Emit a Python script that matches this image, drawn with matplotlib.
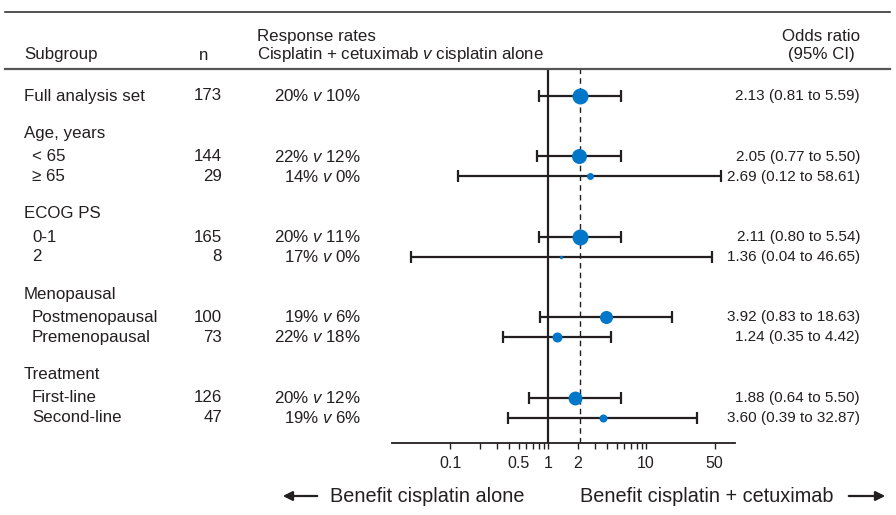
#Forest plot: respuesta a cisplatino + cetuximab vs cisplatino solo, por subgrupos
import matplotlib
matplotlib.use("Agg")
import matplotlib.pyplot as plt
from matplotlib.lines import Line2D
from matplotlib.transforms import blended_transform_factory

plt.rcParams['font.family'] = ['Liberation Sans', 'DejaVu Sans']
plt.rcParams['mathtext.fontset'] = 'custom'
plt.rcParams['mathtext.rm'] = 'Liberation Sans'
plt.rcParams['mathtext.it'] = 'Liberation Sans:italic'

#datos (None = fila de encabezado de grupo)
subgrupos = ["Full analysis set", "Age, years", "< 65", "\u2265 65", "ECOG PS", "0-1", "2",
             "Menopausal", "Postmenopausal", "Premenopausal", "Treatment", "First-line", "Second-line"]
n_pac = [173, None, 144, 29, None, 165, 8, None, 100, 73, None, 126, 47]
resp_cetux = [20, None, 22, 14, None, 20, 17, None, 19, 22, None, 20, 19]
resp_cispl = [10, None, 12, 0, None, 11, 0, None, 6, 18, None, 12, 6]
odds = [2.13, None, 2.05, 2.69, None, 2.11, 1.36, None, 3.92, 1.24, None, 1.88, 3.60]
ic_bajo = [0.81, None, 0.77, 0.12, None, 0.80, 0.04, None, 0.83, 0.35, None, 0.64, 0.39]
ic_alto = [5.59, None, 5.50, 58.61, None, 5.54, 46.65, None, 18.63, 4.42, None, 5.50, 32.87]

ticks_mayores = [0.1, 0.5, 1, 2, 10, 50]
ticks_etiquetas = ["0.1", "0.5", "1", "2", "10", "50"]
ticks_menores = [0.2, 0.3, 0.4, 0.6, 0.7, 0.8, 0.9, 3, 4, 5, 6, 7, 8, 9]

#estilo
sangria = [0, 0, 1, 1, 0, 1, 1, 0, 1, 1, 0, 1, 1]
tam_punto = [11.5, None, 10.8, 5, None, 11.5, 2.5, None, 9.4, 7.2, None, 10, 5.8]
azul = "#0077c8"
negro = "#231f20"

W, H = 896, 515
fig = plt.figure(figsize=(W / 100, H / 100), dpi=100)

#posiciones verticales (en pixeles desde arriba)
ys = []
y = 96
for i in range(len(subgrupos)):
    if i > 0:
        if n_pac[i] is None:
            y += 37.5
        elif n_pac[i - 1] is None:
            y += 23
        else:
            y += 20
    ys.append(y)

ax = fig.add_axes([392 / W, 1 - 443 / H, (735 - 392) / W, (443 - 69) / H])
ax.set_xscale('log')
ax.set_xlim(0.02559, 80.9)
ax.set_ylim(443, 69)
for lado in ["top", "right", "left"]:
    ax.spines[lado].set_visible(False)
ax.spines["bottom"].set_linewidth(1.3)
ax.spines["bottom"].set_color(negro)
ax.set_yticks([])
ax.set_xticks(ticks_mayores)
ax.set_xticklabels(ticks_etiquetas)
ax.set_xticks(ticks_menores, minor=True)
ax.xaxis.set_minor_formatter(plt.NullFormatter())
ax.tick_params(axis='x', which='both', length=4.5, width=1, color=negro,
               labelsize=11.5, pad=5, labelcolor=negro)

ax.axvline(1, color=negro, lw=1.6, zorder=1)
ax.axvline(odds[0], color=negro, lw=1, ls=(0, (4, 3)), zorder=1)

trans = blended_transform_factory(fig.transFigure, ax.transData)
fs = 12.2
fs_or = 11.0

for i, nombre in enumerate(subgrupos):
    y = ys[i]
    x_txt = 24 + 8 * sangria[i]
    ax.text(x_txt / W, y, nombre, transform=trans, fontsize=fs, va='center', ha='left', color=negro)
    if n_pac[i] is None:
        continue
    ax.text(222 / W, y, str(n_pac[i]), transform=trans, fontsize=fs, va='center', ha='right', color=negro)
    ax.text(361 / W, y, "%d%% $\\mathit{v}$ %d%%" % (resp_cetux[i], resp_cispl[i]),
            transform=trans, fontsize=fs, va='center', ha='right', color=negro)
    ax.text(860 / W, y, "%.2f (%.2f to %.2f)" % (odds[i], ic_bajo[i], ic_alto[i]),
            transform=trans, fontsize=fs_or, va='center', ha='right', color=negro)
    ax.errorbar(odds[i], y, xerr=[[odds[i] - ic_bajo[i]], [ic_alto[i] - odds[i]]],
                fmt='none', ecolor=negro, elinewidth=1.6, capsize=4, capthick=1.6, zorder=2)
    ax.plot(odds[i], y, 'o', ms=tam_punto[i], color=azul, mec='none', zorder=3)

#encabezado
fig.text(24 / W, 1 - 55 / H, "Subgroup", fontsize=fs, va='center', ha='left', color=negro)
fig.text(204 / W, 1 - 55 / H, "n", fontsize=fs, va='center', ha='center', color=negro)
fig.text(257 / W, 1 - 36 / H, "Response rates", fontsize=fs, va='center', ha='left', color=negro)
fig.text(257 / W, 1 - 55 / H, "Cisplatin + cetuximab $\\mathit{v}$ cisplatin alone",
         fontsize=fs, va='center', ha='left', color=negro)
fig.text(821 / W, 1 - 36 / H, "Odds ratio", fontsize=fs, va='center', ha='center', color=negro)
fig.text(821 / W, 1 - 55 / H, "(95% CI)", fontsize=fs, va='center', ha='center', color=negro)

fig.add_artist(Line2D([5 / W, 890 / W], [1 - 12 / H] * 2, color=negro, lw=1.1))
fig.add_artist(Line2D([5 / W, 890 / W], [1 - 69 / H] * 2, color="#555555", lw=1.6))

#flechas de beneficio
yb = 1 - 496 / H
fig.text(330 / W, yb, "Benefit cisplatin alone", fontsize=14.3, va='center', ha='left', color=negro)
fig.text(580 / W, yb, "Benefit cisplatin + cetuximab", fontsize=14.3, va='center', ha='left', color=negro)
fig.add_artist(plt.Annotation("", xy=(280 / W, yb), xytext=(320 / W, yb), xycoords='figure fraction',
                              arrowprops=dict(arrowstyle='-|>', color=negro, lw=1.6, mutation_scale=14)))
fig.add_artist(plt.Annotation("", xy=(888 / W, yb), xytext=(846 / W, yb), xycoords='figure fraction',
                              arrowprops=dict(arrowstyle='-|>', color=negro, lw=1.6, mutation_scale=14)))

plt.savefig("out.png", dpi=100)
